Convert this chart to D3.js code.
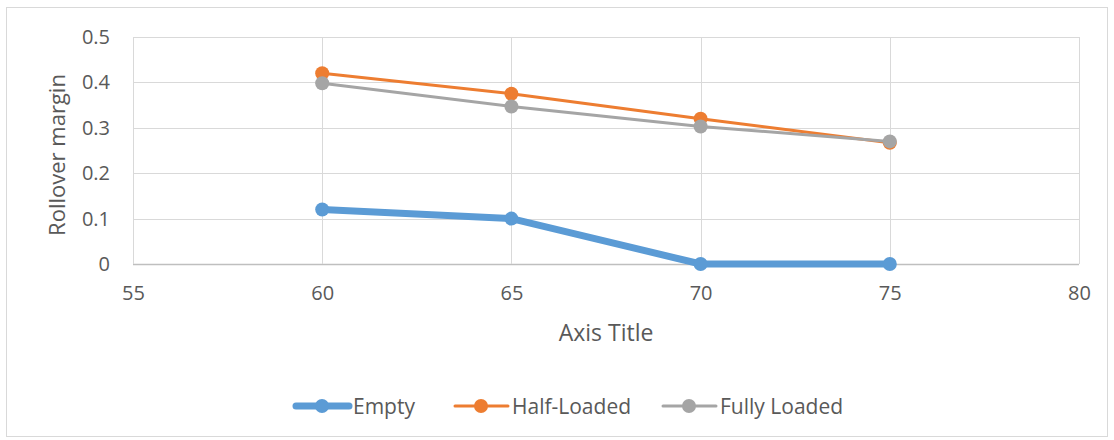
<!DOCTYPE html>
<html><head><meta charset="utf-8">
<script src="https://cdn.jsdelivr.net/npm/d3@7"></script>
<style>body{margin:0;background:#fff}svg{display:block}text{font-family:"Open Sans","Noto Sans",sans-serif;fill:#595959}</style>
</head><body><svg id="c" width="1114" height="440"></svg>
<script>
const xValues = [60, 65, 70, 75];
const seriesNames = ["Empty", "Half-Loaded", "Fully Loaded"];
const emptyValues = [0.12, 0.10, 0, 0];
const halfLoadedValues = [0.42, 0.375, 0.32, 0.267];
const fullyLoadedValues = [0.398, 0.347, 0.303, 0.27];
const xTicks = [55, 60, 65, 70, 75, 80];
const yTicks = [0, 0.1, 0.2, 0.3, 0.4, 0.5];
const colors = ["#5B9BD5", "#ED7D31", "#A5A5A5"];
const widths = [7, 3, 3];

const svg = d3.select("#c");
svg.append("rect").attr("x",6.5).attr("y",7.5).attr("width",1101).attr("height",429)
  .attr("fill","#fff").attr("stroke","#d9d9d9");

const x = d3.scaleLinear().domain([55,80]).range([133,1079]);
const y = d3.scaleLinear().domain([0,0.5]).range([264,37]);

const g = svg.append("g");
g.selectAll(".hg").data(yTicks).join("line")
  .attr("x1",x(55)).attr("x2",x(80)).attr("y1",d=>Math.round(y(d))+0.5).attr("y2",d=>Math.round(y(d))+0.5)
  .attr("stroke",d=>d===0?"#bfbfbf":"#d9d9d9").attr("stroke-width",d=>d===0?1.5:1);
g.selectAll(".vg").data(xTicks).join("line")
  .attr("y1",y(0.5)).attr("y2",y(0)).attr("x1",d=>Math.round(x(d))+0.5).attr("x2",d=>Math.round(x(d))+0.5)
  .attr("stroke","#d9d9d9");

const yAxis = svg.append("g").attr("transform",`translate(${x(55)},0)`)
  .call(d3.axisLeft(y).tickValues(yTicks).tickFormat(d=>d===0?"0":d3.format(".1f")(d)).tickSize(0).tickPadding(23));
yAxis.select(".domain").remove();
yAxis.selectAll("text").style("font-size","20px").style("fill","#595959").style("font-family","'Open Sans',sans-serif");
const xAxis = svg.append("g").attr("transform",`translate(0,${y(0)})`)
  .call(d3.axisBottom(x).tickValues(xTicks).tickFormat(d3.format("d")).tickSize(0).tickPadding(22));
xAxis.select(".domain").remove();
xAxis.selectAll("text").style("font-size","20px").style("fill","#595959").style("font-family","'Open Sans',sans-serif");

svg.append("text").attr("x",606).attr("y",341).attr("text-anchor","middle").style("font-size","23px").text("Axis Title");
svg.append("text").attr("transform","translate(65,155) rotate(-90)").attr("text-anchor","middle").style("font-size","22px").text("Rollover margin");

const data = [emptyValues, halfLoadedValues, fullyLoadedValues];
const line = d3.line().x((d,i)=>x(xValues[i])).y(d=>y(d));
data.forEach((vals,k)=>{
  svg.append("path").datum(vals).attr("d",line).attr("fill","none")
    .attr("stroke",colors[k]).attr("stroke-width",widths[k]).attr("stroke-linejoin","round").attr("stroke-linecap","round");
  svg.selectAll(".m"+k).data(vals).join("circle").attr("cx",(d,i)=>x(xValues[i])).attr("cy",d=>y(d))
    .attr("r",7).attr("fill",colors[k]);
});

const legX = [294, 453, 661];
const leg = svg.append("g");
seriesNames.forEach((n,k)=>{
  const lx = legX[k];
  leg.append("line").attr("x1",lx+2).attr("x2",lx+55).attr("y1",406).attr("y2",406)
    .attr("stroke",colors[k]).attr("stroke-width",widths[k]).attr("stroke-linecap","round");
  leg.append("circle").attr("cx",lx+28).attr("cy",406).attr("r",7).attr("fill",colors[k]);
  leg.append("text").attr("x",lx+59).attr("y",414).style("font-size","21px").text(n);
});
</script></body></html>
